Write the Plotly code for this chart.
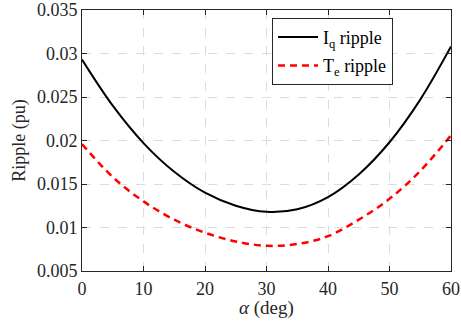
import plotly.graph_objects as go

# Ripple vs. angle alpha (deg)
alpha_deg = [0, 5, 10, 15, 20, 25, 30, 35, 40, 45, 50, 55, 60]
iq_ripple = [0.0293, 0.0240, 0.0197, 0.0164, 0.0140, 0.0125, 0.0118, 0.0121, 0.0135, 0.0161, 0.0198, 0.0247, 0.0308]
te_ripple = [0.0196, 0.0158, 0.0130, 0.0109, 0.0094, 0.0084, 0.0079, 0.0081, 0.0090, 0.0109, 0.0133, 0.0165, 0.0206]

x_ticks = [0, 10, 20, 30, 40, 50, 60]
y_ticks = [0.005, 0.01, 0.015, 0.02, 0.025, 0.03, 0.035]
y_tick_text = ["0.005", "0.01", "0.015", "0.02", "0.025", "0.03", "0.035"]

FONT = "Liberation Serif, Times New Roman, serif"
INK = "#262626"

fig = go.Figure()
fig.add_trace(go.Scatter(
    x=alpha_deg, y=iq_ripple, mode="lines", line_shape="spline",
    name="I<sub>q</sub> ripple", legendgroup="iq",
    line=dict(color="black", width=2),
))
fig.add_trace(go.Scatter(
    x=alpha_deg, y=te_ripple, mode="lines", line_shape="spline",
    name="T<sub>e</sub> ripple", legendgroup="te",
    line=dict(color="#ff0000", width=2.5, dash="7px,5px"),
))

axis_common = dict(
    showline=True, linecolor=INK, linewidth=1, mirror="ticks",
    ticks="inside", ticklen=5, tickcolor=INK, automargin=False,
    showgrid=True, gridcolor="#dcdcdc", griddash="dash", gridwidth=1,
    zeroline=False, tickfont=dict(family=FONT, size=18, color=INK),
)

fig.update_xaxes(range=[0, 60], tickvals=x_ticks, ticklabelstandoff=1, **axis_common)
fig.update_yaxes(
    range=[0.005, 0.035], tickvals=y_ticks, ticktext=y_tick_text,
    title=dict(text="Ripple (pu)", font=dict(family=FONT, size=18, color=INK), standoff=6),
    **axis_common,
)

# x-axis title placed just under the tick labels
fig.add_annotation(
    text="<i>α</i> (deg)", xref="paper", yref="paper", x=0.5, y=-0.142,
    xanchor="center", yanchor="middle", showarrow=False,
    font=dict(family=FONT, size=19, color=INK),
)

fig.update_layout(
    width=461, height=329,
    margin=dict(l=82, r=10, t=10, b=58),
    plot_bgcolor="white", paper_bgcolor="white",
    font=dict(family=FONT, size=18, color="black"),
    legend=dict(
        x=0.515, y=0.97, xanchor="left", yanchor="top",
        bgcolor="white", bordercolor=INK, borderwidth=1,
        font=dict(family=FONT, size=18, color="black"),
        tracegroupgap=2, itemwidth=40,
        entrywidth=74, entrywidthmode="pixels",
    ),
)

fig.write_html("out.html")
